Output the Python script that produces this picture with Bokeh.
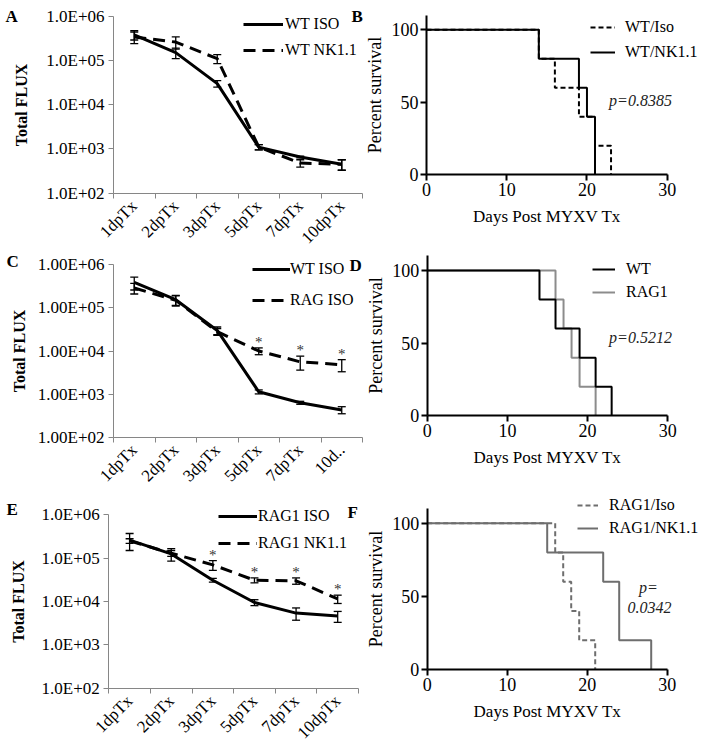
import math
from bokeh.plotting import figure
from bokeh.models import (ColumnDataSource, Whisker, TeeHead, FixedTicker, Legend,
                          LegendItem, Label, Range1d)
from bokeh.layouts import row, column
from bokeh.embed import file_html
from bokeh.resources import INLINE
from bokeh.core.properties import value

SERIF = "Liberation Serif"

# ---------------- data ----------------
days = ["1dpTx", "2dpTx", "3dpTx", "5dpTx", "7dpTx", "10dpTx"]
days_c = ["1dpTx", "2dpTx", "3dpTx", "5dpTx", "7dpTx", "10d.."]

flux_ticks = [1e2, 1e3, 1e4, 1e5, 1e6]
flux_labels_1 = ["1.0E+02", "1.0E+03", "1.0E+04", "1.0E+05", "1.0E+06"]
flux_labels_2 = ["1.00E+02", "1.00E+03", "1.00E+04", "1.00E+05", "1.00E+06"]

# Panel A
A_wt_iso = [3.8e5, 1.5e5, 3.0e4, 1.1e3, 6.6e2, 4.5e2]
A_wt_iso_err = [9e4, 4e4, 5e3, 1.5e2, 3e1, 1.2e2]
A_wt_nk = [3.4e5, 2.6e5, 1.1e5, 1.1e3, 4.8e2, 4.5e2]
A_wt_nk_err = [1e5, 8e4, 2.5e4, 1.5e2, 9e1, 1.2e2]

# Panel C
C_wt_iso = [3.9e5, 1.55e5, 3.0e4, 1.13e3, 6.3e2, 4.3e2]
C_wt_iso_err = [1.3e5, 4e4, 6e3, 1.2e2, 5e1, 8e1]
C_rag_iso = [2.9e5, 1.5e5, 2.8e4, 1.0e4, 5.6e3, 4.8e3]
C_rag_iso_err = [8e4, 4e4, 5e3, 1.8e3, 2e3, 1.5e3]
C_sig = [False, False, False, True, True, True]

# Panel E
E_rag_iso = [2.6e5, 1.25e5, 3.1e4, 9.5e3, 5.4e3, 4.6e3]
E_rag_iso_err = [1.1e5, 4e4, 3e3, 1.5e3, 1.7e3, 1.3e3]
E_rag_nk = [2.5e5, 1.3e5, 7.0e4, 3.1e4, 3.0e4, 1.15e4]
E_rag_nk_err = [3e4, 2e4, 1.8e4, 4e3, 5e3, 2.5e3]
E_sig = [False, False, True, True, True, True]

# Survival panels (event day, percent survival)
surv_x_ticks = [0, 10, 20, 30]
surv_y_ticks = [0, 50, 100]

B_iso_day = [0, 14, 16, 19, 21, 23]
B_iso_pct = [100, 80, 60, 40, 20, 0]
B_nk_day = [0, 14, 19, 20, 21]
B_nk_pct = [100, 80, 60, 40, 0]

D_wt_day = [0, 14, 16, 19, 21, 23]
D_wt_pct = [100, 80, 60, 40, 20, 0]
D_rag_day = [0, 16, 17, 18, 19, 21]
D_rag_pct = [100, 80, 60, 40, 20, 0]

F_iso_day = [0, 16, 17, 18, 19, 21]
F_iso_pct = [100, 80, 60, 40, 20, 0]
F_nk_day = [0, 15, 22, 24, 28]
F_nk_pct = [100, 80, 60, 20, 0]

AXIS_GRAY = "#868686"


def span_range(fig_lo, fig_hi, px_lo, px_hi, d_lo, d_hi, log=False):
    """Extend a data interval [d_lo, d_hi] that sits at pixels [px_lo, px_hi] so that the
    whole figure extent [fig_lo, fig_hi] is covered."""
    if log:
        d_lo, d_hi = math.log10(d_lo), math.log10(d_hi)
    s = (d_hi - d_lo) / (px_hi - px_lo)
    a = d_lo - (px_lo - fig_lo) * s
    b = d_hi + (fig_hi - px_hi) * s
    if log:
        return Range1d(10 ** a, 10 ** b)
    return Range1d(a, b)


def base_fig(box, xr, yr, **kw):
    fx, fy, fw, fh = box
    p = figure(width=fw, height=fh, output_backend="svg", toolbar_location=None,
               title=None, x_range=xr, y_range=yr,
               min_border_left=0, min_border_right=0, min_border_top=0, min_border_bottom=0,
               **kw)
    p.outline_line_color = None
    p.xgrid.visible = False
    p.ygrid.visible = False
    p.background_fill_color = "white"
    p.border_fill_color = "white"
    return p


def add_label(p, box, text, px, py, size="17px", style="bold", align="left",
              baseline="alphabetic", color="black"):
    fx, fy, fw, fh = box
    p.add_layout(Label(x=px - fx, y=fy + fh - py, x_units="screen", y_units="screen",
                       text=text, text_font=SERIF, text_font_style=style,
                       text_font_size=size, text_color=color, text_align=align,
                       text_baseline=baseline))


def make_legend(p, box, items, left, bottom, spacing, glyph_w, standoff, size="16px"):
    fx, fy, fw, fh = box
    p.add_layout(Legend(items=[LegendItem(label=n, renderers=[r]) for n, r in items],
                        location=(left - fx, fy + fh - bottom),
                        label_text_font=SERIF, label_text_font_size=size,
                        label_text_color="black", glyph_width=glyph_w, glyph_height=20,
                        label_height=20, spacing=spacing, padding=0, margin=0,
                        label_standoff=standoff, border_line_alpha=0,
                        background_fill_alpha=0))


def flux_panel(box, data_px, cats, s1, e1, s2, e2, names, tick_labels, sig, leg, lab_standoff):
    fx, fy, fw, fh = box
    x0, x1, yb, yt = data_px
    n = len(cats)
    xr = span_range(fx, fx + fw, x0, x1, 0, n)
    yr = span_range(-(fy + fh), -fy, -yb, -yt, flux_ticks[0], flux_ticks[-1], log=True)
    p = base_fig(box, xr, yr, y_axis_type="log")
    xs = [i + 0.5 for i in range(n)]
    # x axis
    xa = p.xaxis[0]
    xa.fixed_location = flux_ticks[0]
    xa.bounds = (0, n)
    xa.ticker = FixedTicker(ticks=xs, minor_ticks=list(range(n + 1)))
    xa.major_label_overrides = {x: c for x, c in zip(xs, cats)}
    xa.major_tick_out = 0
    xa.major_tick_in = 0
    xa.minor_tick_out = 5
    xa.minor_tick_in = 0
    xa.minor_tick_line_color = AXIS_GRAY
    xa.axis_line_color = AXIS_GRAY
    xa.major_label_orientation = math.pi / 4
    xa.major_label_standoff = 5
    xa.major_label_text_font = SERIF
    xa.major_label_text_font_size = "17px"
    xa.major_label_text_color = "black"
    # y axis
    ya = p.yaxis[0]
    ya.fixed_location = 0
    ya.bounds = (flux_ticks[0], flux_ticks[-1])
    ya.ticker = FixedTicker(ticks=flux_ticks, minor_ticks=[])
    ya.major_label_overrides = {t: l for t, l in zip(flux_ticks, tick_labels)}
    ya.major_tick_out = 5
    ya.major_tick_in = 0
    ya.major_tick_line_color = AXIS_GRAY
    ya.axis_line_color = AXIS_GRAY
    ya.major_label_standoff = 4
    ya.major_label_text_font = SERIF
    ya.major_label_text_font_size = "17px"
    ya.major_label_text_color = "black"
    ya.axis_label = "Total FLUX"
    ya.axis_label_text_font = SERIF
    ya.axis_label_text_font_style = "bold"
    ya.axis_label_text_font_size = "16px"
    ya.axis_label_text_color = "black"
    ya.axis_label_standoff = lab_standoff

    r1 = p.line(xs, s1, line_color="black", line_width=3)
    r2 = p.line(xs, s2, line_color="black", line_width=3, line_dash="12 7")
    for s, e in ((s1, e1), (s2, e2)):
        src = ColumnDataSource(dict(x=xs, upper=[v + d for v, d in zip(s, e)],
                                    lower=[v - d for v, d in zip(s, e)]))
        p.add_layout(Whisker(base="x", upper="upper", lower="lower", source=src,
                             line_color="black", line_width=1.3,
                             upper_head=TeeHead(size=8, line_color="black", line_width=1.3),
                             lower_head=TeeHead(size=8, line_color="black", line_width=1.3)))
    sx = [x for x, f in zip(xs, sig) if f]
    sy = [v + d for v, d, f in zip(s2, e2, sig) if f]
    if sx:
        p.text(x=sx, y=sy, text=["*"] * len(sx), text_font=value(SERIF),
               text_font_size=value("15px"), text_align="center", text_baseline="middle",
               y_offset=-6, text_color="#333333")
    make_legend(p, box, [(names[0], r1), (names[1], r2)], *leg)
    return p


def surv_panel(box, data_px, curves, leg):
    fx, fy, fw, fh = box
    x0, x1, yb, yt = data_px
    xr = span_range(fx, fx + fw, x0, x1, 0, 30)
    yr = span_range(-(fy + fh), -fy, -yb, -yt, 0, 100)
    p = base_fig(box, xr, yr)
    items = []
    for d, pct, color, dash, name in curves:
        r = p.step(d, pct, mode="after", line_color=color, line_width=2, line_dash=dash)
        items.append((name, r))
    xa, ya = p.xaxis[0], p.yaxis[0]
    xa.fixed_location = 0
    xa.bounds = (0, 30)
    ya.fixed_location = 0
    ya.bounds = (0, 110)
    for ax, ticks in ((xa, surv_x_ticks), (ya, surv_y_ticks)):
        ax.ticker = FixedTicker(ticks=ticks, minor_ticks=[])
        ax.axis_line_width = 2
        ax.axis_line_color = "black"
        ax.major_tick_line_width = 2
        ax.major_tick_line_color = "black"
        ax.major_tick_out = 6
        ax.major_tick_in = 0
        ax.major_label_standoff = 2
        ax.major_label_text_font = SERIF
        ax.major_label_text_font_size = "18px"
        ax.major_label_text_color = "black"
        ax.axis_label_text_font = SERIF
        ax.axis_label_text_font_style = "normal"
        ax.axis_label_text_color = "black"
    xa.axis_label = "Days Post MYXV Tx"
    xa.axis_label_text_font_size = "17px"
    xa.axis_label_standoff = 8
    ya.axis_label = "Percent survival"
    ya.axis_label_text_font_size = "18px"
    ya.axis_label_standoff = 4
    order = leg[0]
    make_legend(p, box, [items[i] for i in order], *leg[1:])
    return p


# figure boxes on the page: (left, top, width, height)
boxA, boxB = (0, 0, 365, 252), (365, 0, 340, 252)
boxC, boxD = (0, 252, 365, 242), (365, 252, 340, 242)
boxE, boxF = (0, 494, 365, 252), (365, 494, 340, 252)

# Row 1
pA = flux_panel(boxA, (113, 362, 192.7, 15.7), days, A_wt_iso, A_wt_iso_err, A_wt_nk,
                A_wt_nk_err, ["WT ISO", "WT NK1.1"], flux_labels_1, [False] * 6,
                (243, 60, 6, 40, 2), 13)
add_label(pA, boxA, "A", 5, 16)
add_label(pA, boxA, "B", 351, 16)

pB = surv_panel(boxB, (426, 666.7, 174.3, 29.3),
                [(B_iso_day, B_iso_pct, "black", "5 3", "WT/Iso"),
                 (B_nk_day, B_nk_pct, "black", "solid", "WT/NK1.1")],
                ([0, 1], 590, 62, 5, 25, 10))
add_label(pB, boxB, "p=0.8385", 640, 100, size="16px", style="italic", align="center",
          baseline="middle", color="#222222")

# Row 2
pC = flux_panel(boxC, (113, 362, 436.7, 264.3), days_c, C_wt_iso, C_wt_iso_err, C_rag_iso,
                C_rag_iso_err, ["WT ISO", "RAG ISO"], flux_labels_2, C_sig,
                (252, 310, 11, 38, 0), 7)
add_label(pC, boxC, "C", 6, 261)
add_label(pC, boxC, "D", 349, 265)

pD = surv_panel(boxD, (426.7, 667.3, 415.3, 270),
                [(D_rag_day, D_rag_pct, "#8c8c8c", "solid", "RAG1"),
                 (D_wt_day, D_wt_pct, "black", "solid", "WT")],
                ([1, 0], 592, 302, 3, 23, 11))
add_label(pD, boxD, "p=0.5212", 640, 337, size="16px", style="italic", align="center",
          baseline="middle", color="#222222")

# Row 3
pE = flux_panel(boxE, (108.3, 358, 687.7, 514.3), days, E_rag_iso, E_rag_iso_err, E_rag_nk,
                E_rag_nk_err, ["RAG1 ISO", "RAG1 NK1.1"], flux_labels_1, E_sig,
                (218, 553, 7, 39, 1), 11)
add_label(pE, boxE, "E", 6, 509)
add_label(pE, boxE, "F", 347, 512)

pF = surv_panel(boxF, (426.7, 666.7, 669, 522.7),
                [(F_iso_day, F_iso_pct, "#6e6e6e", "5 3", "RAG1/Iso"),
                 (F_nk_day, F_nk_pct, "#6e6e6e", "solid", "RAG1/NK1.1")],
                ([0, 1], 577, 538, 3, 21, 11))
add_label(pF, boxF, "p=", 648, 587, size="16px", style="italic", align="center",
          baseline="middle", color="#222222")
add_label(pF, boxF, "0.0342", 649, 607, size="16px", style="italic", align="center",
          baseline="middle", color="#222222")

layout = column(row(pA, pB), row(pC, pD), row(pE, pF))

open("out.html", "w").write(file_html(layout, INLINE))
